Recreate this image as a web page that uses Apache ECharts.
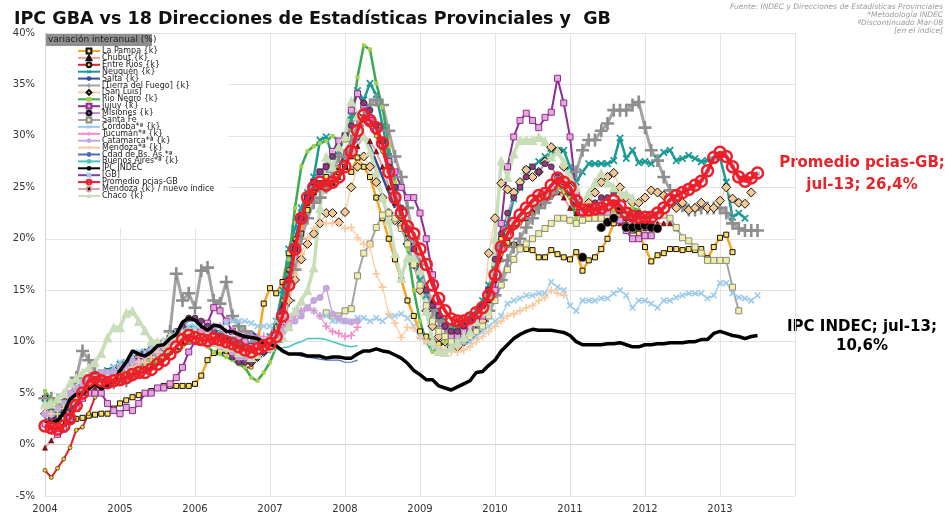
<!DOCTYPE html>
<html>
<head>
<meta charset="utf-8">
<script src="https://cdn.jsdelivr.net/npm/echarts@6/dist/echarts.min.js"></script>
</head>
<body style="margin:0;background:#fff">
<div id="main" style="width:945px;height:519px;"></div>
<script type="text/javascript">
// monthly YoY inflation (%), each array starts at its own month
var laPampa = [4.5,3.5,2.8,2.5,2.4,2.5,2.6,2.8,2.9,3.0,3.0,3.5,
  4.0,4.3,4.6,4.8,5.0,5.2,5.5,5.7,5.7,5.7,5.7,5.7,
  5.9,6.7,8.2,8.9,9.0,9.1,9.3,9.4,9.6,9.6,9.8,13.7,
  15.2,14.7,15.8,18.6,18.7,20.5,22.8,24.5,25.4,26.0,25.4,26.5,
  27.0,26.5,27.9,27.0,26.0,24.0,22.0,20.0,18.0,16.0,14.0,12.5,
  11.0,10.5,10.0,9.8,10.0,10.5,11.0,11.5,11.5,11.8,12.5,15.0,
  17.0,20.0,19.6,19.4,19.2,19.0,18.9,18.2,18.2,18.9,18.5,18.2,
  18.0,18.7,16.9,17.9,18.2,19.0,20.0,21.5,22.0,21.3,20.8,20.5,
  19.2,17.8,18.4,18.6,19.0,19.0,18.9,19.0,18.9,19.0,18.1,19.2,
  20.1,20.4,18.7];
var chubut = [-0.3,0.4,1.0,2.0,3.0,4.0,4.5,5.0,5.5,5.8,6.0,6.0,
  6.0,6.3,6.5,7.0,7.5,7.5,8.0,8.5,9.0,9.5,10.0,10.0,
  10.2,10.0,10.0,9.8,9.5,9.5,9.2,9.0,8.8,8.5,9.0,9.5,
  10.0,11.0,13.5,17.0,20.0,22.0,23.5,24.5,25.0,25.0,25.5,26.0,
  27.0,28.0,29.0,30.0,29.5,28.5,27.0,25.0,23.5,22.0,20.5,19.0,
  17.5,15.5,14.0,13.0,12.0,11.5,11.5,11.5,12.0,12.5,13.0,14.0,
  16.0,18.0,20.5,21.5,22.0,22.0,22.8,23.5,24.0,25.0,24.5,24.0,
  23.0,22.5,22.5,22.0,22.0,22.5,22.5,22.0,21.5,21.5,21.0,21.0,
  21.0,21.0,21.5,21.5,21.5,21.0];
var entreRios = [-2.5,-3.2,-2.3,-1.4,-0.3,1.4,1.7,3.0,4.6,5.5,6.0,6.2,
  6.5,7.0,7.0,7.5,8.0,8.5,9.4,9.5,10.0,10.5,10.5,11.0,
  11.0,10.5,10.0,9.8,9.5,9.0,8.5,8.0,7.5,7.5,8.5,9.0,
  10.0,11.5,14.0,17.0,20.0,22.0,23.5,24.5,25.0,25.5,26.0,27.0,
  28.5,29.5,31.0,31.5,31.0,30.0,28.5,26.5,24.5,22.5,20.5,19.0,
  17.0,15.0,13.5,12.5,11.5,11.0,11.0,11.5,12.0,12.5,13.5,14.5,
  16.5,18.5,20.0,21.0,21.5,22.0,22.5,23.0,23.5,24.0,24.5,24.5,
  24.0,23.0,22.5,22.5,22.0,22.0];
var neuquen = [4.0,3.5,3.0,3.2,4.0,5.0,6.0,6.5,6.8,7.0,7.2,7.5,
  7.8,8.0,8.5,8.8,9.0,9.2,9.5,9.8,10.0,10.5,11.0,11.2,
  11.0,10.8,10.5,10.8,10.5,10.2,10.0,9.8,9.5,9.3,9.5,10.0,
  10.5,12.0,15.0,19.0,21.0,23.0,24.5,26.0,29.6,29.9,28.0,28.5,
  30.0,32.0,34.4,33.5,35.1,34.0,31.0,28.0,25.0,22.0,19.5,17.5,
  16.0,14.5,13.5,12.5,12.0,11.5,11.5,12.0,12.5,13.0,14.0,15.5,
  17.0,19.5,21.5,23.9,25.0,26.7,27.0,27.5,28.0,28.3,28.6,28.6,
  27.0,25.5,26.5,27.3,27.3,27.3,27.3,27.6,29.8,27.8,28.6,27.4,
  27.5,27.3,27.8,28.4,28.6,27.6,27.8,28.1,27.8,27.5,27.6,27.7,
  27.9,25.5,22.1,22.5,22.0];
var salta = [3.5,3.0,3.0,3.5,4.5,5.5,6.0,6.5,7.0,7.0,7.0,7.5,
  7.5,8.0,8.5,9.0,9.0,9.5,10.0,10.0,10.5,11.0,11.0,11.0,
  11.0,10.8,10.5,11.0,11.0,10.5,10.0,10.0,10.5,11.0,10.5,10.0,
  10.0,11.0,13.5,17.0,20.0,22.0,23.5,24.5,25.0,25.5,26.0,27.0,
  28.0,29.0,29.6,30.0,29.0,27.5,26.0,24.5,23.0];
var tierraFuego = [4.5,4.5,4.3,4.0,4.5,6.5,9.1,8.2,7.0,6.2,6.5,6.0,
  6.5,6.2,6.8,7.2,7.8,8.5,8.8,9.5,11.0,16.6,14.0,14.7,
  13.3,16.9,17.2,14.0,13.7,15.8,12.5,11.5,11.0,10.5,10.0,9.5,
  9.5,10.0,11.5,14.0,17.0,20.0,22.0,23.5,24.0,25.0,26.5,28.0,
  28.0,29.5,31.0,32.0,33.0,33.5,33.0,30.5,28.0,26.0,23.0,20.0,
  17.5,15.0,13.0,12.0,11.5,11.0,11.0,11.0,11.2,11.5,12.0,13.0,
  14.5,16.0,17.9,19.2,20.0,21.1,22.0,23.0,23.5,24.4,25.0,25.5,
  25.5,26.5,28.6,29.6,29.6,30.5,31.2,32.5,32.5,32.5,33.0,33.3,
  30.8,28.6,27.6,26.0,24.7,23.7,23.2,22.8,22.8,23.0,23.0,23.0,
  23.0,22.5,21.5,21.0,20.8,20.8,20.8];
var sanLuis = [3.0,3.0,3.5,4.0,4.5,5.0,5.5,6.0,6.5,6.5,7.0,7.0,
  7.5,7.5,8.0,8.5,8.5,9.0,9.5,9.5,10.0,10.5,10.5,11.0,
  11.0,11.0,10.8,10.5,10.2,10.0,9.5,9.0,8.5,8.0,8.5,9.0,
  9.5,10.5,12.0,14.0,16.0,18.0,19.5,20.5,21.5,22.5,22.5,21.6,
  22.6,25.0,27.0,28.0,27.0,25.5,24.0,22.5,21.8,21.3,19.5,17.5,
  15.0,13.0,11.5,10.5,10.0,9.5,9.5,10.0,10.5,11.0,12.0,18.6,
  22.0,25.4,24.8,24.5,25.5,26.7,26.0,26.5,27.5,28.9,28.5,27.0,
  25.0,24.0,23.0,23.5,24.5,25.5,26.0,26.4,25.0,24.0,23.5,23.5,
  24.0,24.7,24.5,24.2,23.4,23.0,23.5,22.8,23.0,23.5,23.0,23.0,
  23.7,25.0,23.9,23.5,23.4,24.5];
var rioNegro = [5.2,4.3,4.0,4.0,4.5,5.0,5.5,6.0,6.0,6.0,6.5,6.5,
  6.5,7.0,7.0,7.5,8.0,8.0,8.0,8.5,9.0,9.0,9.5,10.0,
  10.0,10.0,9.5,9.0,8.8,8.5,8.2,7.8,7.5,6.5,6.2,7.0,
  8.0,9.5,13.0,18.0,23.0,27.0,28.5,29.0,29.3,29.5,30.0,29.5,
  29.5,30.8,35.7,38.8,38.4,35.1,32.8,29.0,25.5,22.0,19.0,15.0,
  12.0,10.0,9.0,9.5,10.0,10.5,11.0,11.5,12.0,12.5,13.5,15.0,
  17.0,19.0,20.5,21.5,22.0,23.0,23.5,24.0,24.5,24.7,25.0,24.7,
  24.0,22.0,23.0,22.8,22.5,22.8,23.0,22.8,22.5,22.8,23.0,22.8];
var jujuy = [2.0,1.5,1.0,1.5,2.5,3.5,4.5,5.0,5.0,5.0,4.0,3.3,
  3.0,3.6,3.3,4.0,5.0,5.0,5.5,5.5,5.9,6.5,7.5,9.0,
  10.0,11.0,11.8,13.3,13.0,12.0,11.0,10.5,10.0,9.5,9.5,9.8,
  10.0,11.0,13.0,16.0,19.0,22.0,24.0,25.5,26.5,27.0,28.5,29.5,
  30.0,32.5,34.1,33.0,31.5,30.5,29.0,27.5,26.5,25.0,24.0,24.0,
  22.5,20.0,16.5,13.5,11.5,10.5,10.5,11.0,11.5,12.0,12.5,15.0,
  15.0,21.5,27.0,29.9,31.5,32.2,31.5,30.8,31.8,32.3,35.6,33.2,
  29.9,24.4,22.5,22.0,22.5,22.5,22.5,22.0,21.8,20.8,20.0,20.0,
  20.3,20.3];
var misiones = [3.0,2.5,2.5,3.0,3.5,4.5,5.5,6.0,6.5,6.5,7.0,7.0,
  7.0,7.5,8.0,8.5,9.0,9.0,9.5,10.0,10.5,11.0,11.5,12.3,
  12.3,12.0,11.5,11.0,10.5,10.0,8.5,8.0,8.0,8.0,8.5,9.0,
  9.5,11.0,13.0,16.0,19.0,22.0,24.0,25.5,26.5,27.0,28.0,29.0,
  30.0,31.0,32.0,33.2,32.5,31.0,29.5,27.0,25.0,23.0,21.0,19.0,
  17.0,15.0,13.5,12.5,11.5,11.0,11.0,11.5,12.0,12.5,13.5,15.0,
  18.0,20.5,22.5,24.0,25.0,26.0,27.0,26.5,27.3,27.0,26.0,25.5,
  24.5,23.5,23.0,23.0,23.5,24.0,24.0,24.5,23.0,22.0,22.0,22.5,
  22.0,21.5];
var santaFe = [12.8,12.5,12.5,
  13.0,13.2,16.4,18.6,19.5,21.1,22.3,22.5,22.0,21.0,19.5,17.5,
  15.5,13.5,12.0,11.0,10.5,10.0,10.0,10.2,10.5,11.0,11.5,12.5,
  14.0,15.5,17.0,18.0,19.0,19.5,20.0,20.5,21.0,21.5,22.0,22.0,
  21.8,21.5,21.8,22.0,22.0,22.0,22.0,22.3,22.5,22.5,22.3,22.0,
  22.0,22.3,22.3,22.3,22.0,21.1,20.1,19.8,19.2,18.6,17.9,17.9,
  17.9,17.9,15.3,13.0];
var cordoba = [3.0,3.0,3.5,4.0,4.5,5.0,5.5,6.0,6.5,7.0,7.0,7.5,
  8.0,8.0,8.5,9.0,9.0,9.5,9.5,10.0,10.5,11.0,11.0,11.5,
  11.5,11.5,11.0,11.5,11.5,11.8,12.0,12.0,12.0,11.8,11.5,11.5,
  11.5,12.0,12.0,12.5,13.0,13.0,13.3,13.0,12.5,12.5,12.0,12.0,
  12.0,12.0,12.3,12.3,12.0,12.3,12.0,12.5,12.5,12.7,12.3,11.5,
  10.5,10.0,9.5,9.2,9.0,9.5,10.0,10.0,10.0,10.5,11.0,11.5,
  12.0,12.5,13.7,14.0,14.2,14.5,14.5,14.7,14.7,15.8,15.3,15.0,
  13.5,13.0,14.0,14.0,14.0,14.2,14.2,14.7,15.0,14.5,13.3,14.0,
  14.0,13.7,13.3,14.0,14.0,14.3,14.5,14.7,14.7,14.7,14.2,14.5,
  15.7,15.7,14.7,14.3,14.2,14.0,14.5];
var tucuman = [3.0,3.0,3.5,4.0,4.5,5.0,5.5,6.0,6.0,6.5,6.5,7.0,
  7.0,7.5,8.0,8.5,8.5,9.0,9.5,10.0,10.0,10.5,11.0,11.0,
  11.0,11.0,11.0,11.5,11.5,11.0,11.0,10.5,10.5,10.5,10.5,10.5,
  10.5,11.0,11.5,12.0,12.5,13.0,13.3,13.0,12.5,11.5,11.0,10.8,
  10.5,10.6,11.4];
var catamarca = [3.0,3.0,3.5,4.0,5.0,5.5,6.0,6.5,6.5,7.0,7.0,7.0,
  7.5,7.5,8.0,8.0,8.5,9.0,9.0,9.5,10.0,10.0,10.5,10.5,
  10.5,10.5,10.0,10.0,9.5,9.5,9.0,8.5,8.5,8.5,9.0,9.5,
  10.0,10.5,11.0,11.5,12.0,12.5,13.3,14.0,14.3,15.2,12.7,12.3,
  12.0,11.9,12.0];
var mendozaA = [3.5,3.0,3.0,3.5,4.0,4.5,5.0,5.5,6.0,6.0,6.5,6.5,
  7.0,7.0,7.5,8.0,8.0,8.5,9.0,9.5,9.5,10.0,10.5,10.5,
  10.5,10.5,10.0,10.0,10.0,9.8,9.5,9.0,9.0,8.8,9.0,9.5,
  10.0,11.0,12.5,14.0,16.5,18.5,20.0,21.0,21.5,21.5,21.5,21.5,
  21.0,21.1,20.1,19.5,19.2,16.6,15.3,12.7,11.8,10.4,11.4,11.3,
  10.4,10.0,9.8,9.5,9.2,9.0,9.0,9.2,9.5,10.0,10.5,11.0,
  11.5,12.0,12.5,12.7,13.0,13.3,13.5,14.0,14.3,15.0,14.7,14.5];
var cdadBsAs = [2.5,2.5,2.8,3.5,4.5,5.0,5.2,5.5,6.0,5.8,6.0,6.3,
  7.5,8.2,9.0,8.8,8.8,9.2,9.5,9.8,10.5,11.0,11.5,12.0,
  12.0,11.5,11.0,11.5,11.5,11.0,11.0,10.8,10.5,10.5,10.3,10.0,
  9.8,9.5,9.0,8.8,8.8,8.6,8.5,8.4,8.3,8.2,8.2,8.2,
  8.0,8.0,8.2];
var buenosAires = [3.0,3.0,3.2,3.8,4.5,5.0,5.5,6.0,6.0,6.2,6.5,6.8,
  7.5,8.0,8.5,8.5,8.5,9.0,9.5,9.5,10.0,10.5,11.0,11.5,
  11.5,11.0,10.8,11.0,11.0,10.5,10.5,10.2,10.0,10.0,9.8,9.5,
  9.5,9.3,9.4,9.5,9.8,10.0,10.3,10.3,10.3,10.2,10.0,9.8,
  9.6,9.5,9.6];
var ipcIndec = [2.3,2.1,2.3,3.1,4.4,4.9,4.9,5.4,5.9,5.4,5.7,6.1,
  7.2,8.0,9.1,8.8,8.6,9.0,9.6,9.7,10.3,10.7,11.9,12.3,
  12.1,11.5,11.1,11.6,11.5,11.0,11.0,10.7,10.5,10.4,10.3,9.8,
  9.7,9.6,9.1,8.8,8.8,8.8,8.6,8.6,8.6,8.4,8.5,8.5,
  8.4,8.4,8.8,9.1,9.1,9.3,9.1,9.0,8.7,8.4,7.9,7.2,
  6.8,6.3,6.3,5.7,5.5,5.3,5.6,5.9,6.2,7.0,7.1,7.7,
  8.2,9.1,9.7,10.3,10.7,11.0,11.2,11.1,11.1,11.1,11.0,10.9,
  10.6,10.0,9.7,9.7,9.7,9.7,9.8,9.8,9.9,9.7,9.5,9.5,
  9.7,9.7,9.8,9.8,9.9,9.9,9.9,10.0,10.0,10.2,10.2,10.8,
  11.0,10.8,10.6,10.5,10.3,10.5,10.6];
var gb = [16.8,19.0,20.4,21.6,22.2,23.1,23.6,24.3,24.5,25.1,25.8,25.6,
  24.8,23.8,22.9,22.7,23.0,23.1,23.2,23.6,23.3,22.6,22.3,22.0,
  22.2,22.0,22.4,23.1,23.7,24.1,24.6,24.9,25.1,25.7,26.5,27.8,
  28.3,28.1,27.1,25.9,25.7,25.8,26.3];
var promedio = [1.8,1.6,1.5,1.8,2.5,3.8,5.0,6.2,6.5,6.2,6.0,6.2,
  6.3,6.5,6.8,7.0,7.0,7.3,7.8,8.2,8.8,9.5,10.2,10.6,
  10.4,10.2,10.1,10.3,10.2,10.0,9.8,9.5,9.2,9.0,9.3,9.6,
  9.8,10.5,12.5,15.5,19.0,22.0,24.0,25.0,25.5,25.2,25.5,26.0,
  27.0,28.5,30.5,32.0,31.5,30.8,29.3,26.5,24.0,22.5,21.2,20.5,
  19.0,17.5,15.5,14.2,13.0,12.2,12.0,12.0,12.3,12.8,13.3,14.5,
  16.5,19.2,20.5,21.5,22.3,23.0,23.7,24.2,24.4,25.2,25.9,25.5,
  25.0,23.7,22.8,22.8,22.9,23.0,23.3,23.7,23.2,22.5,22.2,22.1,
  22.1,22.1,22.5,23.0,23.8,24.2,24.5,24.8,25.2,25.6,26.6,27.9,
  28.4,28.0,27.0,26.0,25.6,25.9,26.4];
var mendozaNuevo = [18.2,null,null,21.1,21.6,22.0,22.8,21.1,21.1,21.2,21.3,21.1,21.0];
var chaco = [4.0,4.0,4.5,5.0,6.0,6.5,7.0,7.5,8.0,8.9,10.4,11.4,
  11.4,12.8,13.0,12.0,11.1,10.1,10.0,10.0,10.5,10.5,10.8,11.0,
  11.0,10.5,10.5,10.0,9.8,9.5,9.5,9.0,9.0,8.5,8.8,9.5,
  9.5,10.1,10.5,11.5,13.0,14.0,15.0,17.2,23.0,28.0,27.0,29.0,
  30.0,33.4,32.0,30.0,28.5,26.5,24.0,21.8,18.6,16.2,18.2,18.2,
  17.0,13.0,10.1,9.1,9.0,9.5,10.0,10.5,11.0,12.0,13.0,13.0,
  20.0,27.6,26.0,28.3,29.6,29.6,29.6,29.9,29.5,28.0,28.5,27.5,
  26.0,25.0,23.4,24.5,25.5,26.4,25.5,25.0,24.4,24.4,24.0];

var yearLabels = [2004,2005,2006,2007,2008,2009,2010,2011,2012,2013];

var PLUS = 'path://M4,0H6V4H10V6H6V10H4V6H0V4H4Z';

function pts(startYear, startMonth, vals) {
  return vals.map(function (v, i) {
    return [startYear + (startMonth - 1 + i) / 12, v];
  });
}

function ser(name, sy, sm, vals, o) {
  return {
    name: name,
    type: 'line',
    data: pts(sy, sm, vals),
    symbol: o.symbol || 'none',
    symbolSize: o.size || 5,
    symbolRotate: o.rot || 0,
    showSymbol: o.symbol ? true : false,
    z: o.z || 2,
    connectNulls: false,
    lineStyle: { color: o.line, width: o.width || 2 },
    itemStyle: {
      color: o.fill || o.line,
      borderColor: o.border || o.fill || o.line,
      borderWidth: o.bw || 0
    },
    emphasis: { disabled: true },
    animation: false
  };
}

var series = [
  ser('La Pampa {k}', 2004, 1, laPampa, { line: '#F7A51E', width: 2.5, symbol: 'rect', size: 5, fill: '#FFE066', border: '#111', bw: 1 }),
  ser('Chubut {k}', 2004, 1, chubut, { line: '#F29C9C', width: 2, symbol: 'triangle', size: 5, fill: '#C00000', border: '#111', bw: 0.6 }),
  ser('Entre Rios {k}', 2004, 1, entreRios, { line: '#E8202A', width: 2, symbol: 'circle', size: 4, fill: '#F5D020', border: '#111', bw: 0.6 }),
  ser('Neuquén {k}', 2004, 1, neuquen, { line: '#1A9A96', width: 2.5, symbol: PLUS, rot: 45, size: 9 }),
  ser('Salta {k}', 2004, 1, salta, { line: '#2F4F9F', width: 2.5 }),
  ser('[Tierra del Fuego] {k}', 2004, 1, tierraFuego, { line: '#A3A3A3', width: 3, symbol: PLUS, size: 13, fill: '#8E8E8E' }),
  ser('[San Luis]', 2004, 1, sanLuis, { line: '#F9CFA5', width: 1.5, symbol: 'diamond', size: 9, fill: '#F5C993', border: '#111', bw: 1 }),
  ser('Rio Negro {k}', 2004, 1, rioNegro, { line: '#3DAA4F', width: 2.5, symbol: 'rect', size: 4, fill: '#A6D04A' }),
  ser('Jujuy {k}', 2004, 1, jujuy, { line: '#8E2C96', width: 2, symbol: 'rect', size: 6, fill: '#E6A8D8', border: '#8E2C96', bw: 1 }),
  ser('Misiones {k}', 2004, 1, misiones, { line: '#B890CC', width: 2, symbol: 'circle', size: 6, fill: '#8C3C7C', border: '#111', bw: 0.6 }),
  ser('Santa Fe', 2007, 10, santaFe, { line: '#A5A5A5', width: 2, symbol: 'rect', size: 6, fill: '#F2F0A0', border: '#8A8A8A', bw: 1 }),
  ser('Córdoba*ª {k}', 2004, 1, cordoba, { line: '#9DCBEA', width: 1.2, symbol: PLUS, rot: 45, size: 8 }),
  ser('Tucumán*ª {k}', 2004, 1, tucuman, { line: '#F28CC8', width: 1.2, symbol: PLUS, size: 8 }),
  ser('Catamarca*ª {k}', 2004, 1, catamarca, { line: '#C4A8DC', width: 1.5, symbol: 'circle', size: 7 }),
  ser('Mendoza*ª {k}', 2004, 1, mendozaA, { line: '#FCC99E', width: 1.2, symbol: PLUS, size: 8 }),
  ser('Cdad de Bs. As.*ª', 2004, 1, cdadBsAs, { line: '#4A6CC4', width: 1.2 }),
  ser('Buenos Aires*ª {k}', 2004, 1, buenosAires, { line: '#46C4C4', width: 1.5 }),
  ser('IPC INDEC', 2004, 1, ipcIndec, { line: '#000000', width: 3.5, z: 4 }),
  ser('[GB]', 2010, 1, gb, { line: '#7B3FA0', width: 2.5, symbol: 'rect', size: 5, fill: '#A8C8F0', z: 3 }),
  ser('Promedio pcias-GB', 2004, 1, promedio, { line: '#F01E28', width: 3.5, symbol: 'circle', size: 11, fill: 'rgba(0,0,0,0)', border: '#F01E28', bw: 2.5, z: 5 }),
  ser('Mendoza {k} / nuevo índice', 2011, 3, mendozaNuevo, { line: '#D9A6A6', width: 2, symbol: 'circle', size: 9, fill: '#000', border: '#D9A6A6', bw: 0.5 }),
  ser('Chaco {k}', 2004, 1, chaco, { line: '#C8DDB8', width: 3.5, symbol: 'triangle', size: 10, fill: '#C8DDB8' })
];

var myChart = echarts.init(document.getElementById('main'));

var option = {
  backgroundColor: '#fff',
  animation: false,
  textStyle: { fontFamily: 'DejaVu Sans' },
  grid: { left: 45, right: 150, top: 33, bottom: 23 },
  xAxis: {
    type: 'value',
    min: 2004,
    max: 2014,
    interval: 1,
    axisLine: { lineStyle: { color: '#d4d4d4' } },
    axisTick: { show: false },
    splitLine: { show: true, lineStyle: { color: '#e4e4e4' } },
    axisLabel: {
      color: '#333', fontSize: 10, margin: 8,
      formatter: function (v) { return yearLabels.indexOf(v) >= 0 ? String(v) : ''; }
    }
  },
  yAxis: {
    type: 'value',
    min: -5,
    max: 40,
    interval: 5,
    axisLine: { show: true, lineStyle: { color: '#d4d4d4' } },
    axisTick: { show: false },
    splitLine: { lineStyle: { color: '#e4e4e4' } },
    axisLabel: { color: '#333', fontSize: 10, margin: 10, formatter: function (v) { return v + '%'; } }
  },
  legend: {
    orient: 'vertical',
    left: 72,
    top: 42,
    itemWidth: 22,
    itemHeight: 6,
    itemGap: -1.1,
    selectedMode: false,
    textStyle: { fontSize: 8, color: '#222', lineHeight: 7, padding: [0, 0, 0, -3] },
    data: series.map(function (s) { return s.name; })
  },
  graphic: [
    { type: 'rect', z: 1, shape: { x: 46, y: 34, width: 182, height: 194 }, style: { fill: '#fff' } },
    { type: 'rect', z: 10, shape: { x: 46, y: 34, width: 106, height: 12 }, style: { fill: '#8f8f8f' } },
    { type: 'text', z: 11, x: 48, y: 40, style: { text: 'variación interanual (%)', font: '9px "DejaVu Sans"', fill: '#1a1a1a', textVerticalAlign: 'middle' } },
    { type: 'text', x: 14, y: 19, style: { text: 'IPC GBA vs 18 Direcciones de Estadísticas Provinciales y  GB', font: 'bold 17.5px "DejaVu Sans"', fill: '#111', textVerticalAlign: 'middle' } },
    { type: 'text', x: 943, y: 7, style: { text: 'Fuente: INDEC y Direcciones de Estadísticas Provinciales', font: 'italic 7.5px "DejaVu Sans"', fill: '#9a9a9a', textAlign: 'right', textVerticalAlign: 'middle' } },
    { type: 'text', x: 943, y: 15, style: { text: '*Metodología INDEC', font: 'italic 7.5px "DejaVu Sans"', fill: '#9a9a9a', textAlign: 'right', textVerticalAlign: 'middle' } },
    { type: 'text', x: 943, y: 23, style: { text: 'ªDiscontinuado Mar-08', font: 'italic 7.5px "DejaVu Sans"', fill: '#9a9a9a', textAlign: 'right', textVerticalAlign: 'middle' } },
    { type: 'text', x: 943, y: 31, style: { text: '[en el índice]', font: 'italic 7.5px "DejaVu Sans"', fill: '#9a9a9a', textAlign: 'right', textVerticalAlign: 'middle' } },
    { type: 'text', x: 862, y: 163, style: { text: 'Promedio pcias-GB;', font: 'bold 15px "DejaVu Sans"', fill: '#E8232A', textAlign: 'center', textVerticalAlign: 'middle' } },
    { type: 'text', x: 862, y: 185, style: { text: 'jul-13; 26,4%', font: 'bold 15px "DejaVu Sans"', fill: '#E8232A', textAlign: 'center', textVerticalAlign: 'middle' } },
    { type: 'text', x: 862, y: 327, style: { text: 'IPC INDEC; jul-13;', font: 'bold 15px "DejaVu Sans"', fill: '#000', textAlign: 'center', textVerticalAlign: 'middle' } },
    { type: 'text', x: 862, y: 346, style: { text: '10,6%', font: 'bold 15px "DejaVu Sans"', fill: '#000', textAlign: 'center', textVerticalAlign: 'middle' } }
  ],
  series: series
};

myChart.setOption(option);
</script>
</body>
</html>
